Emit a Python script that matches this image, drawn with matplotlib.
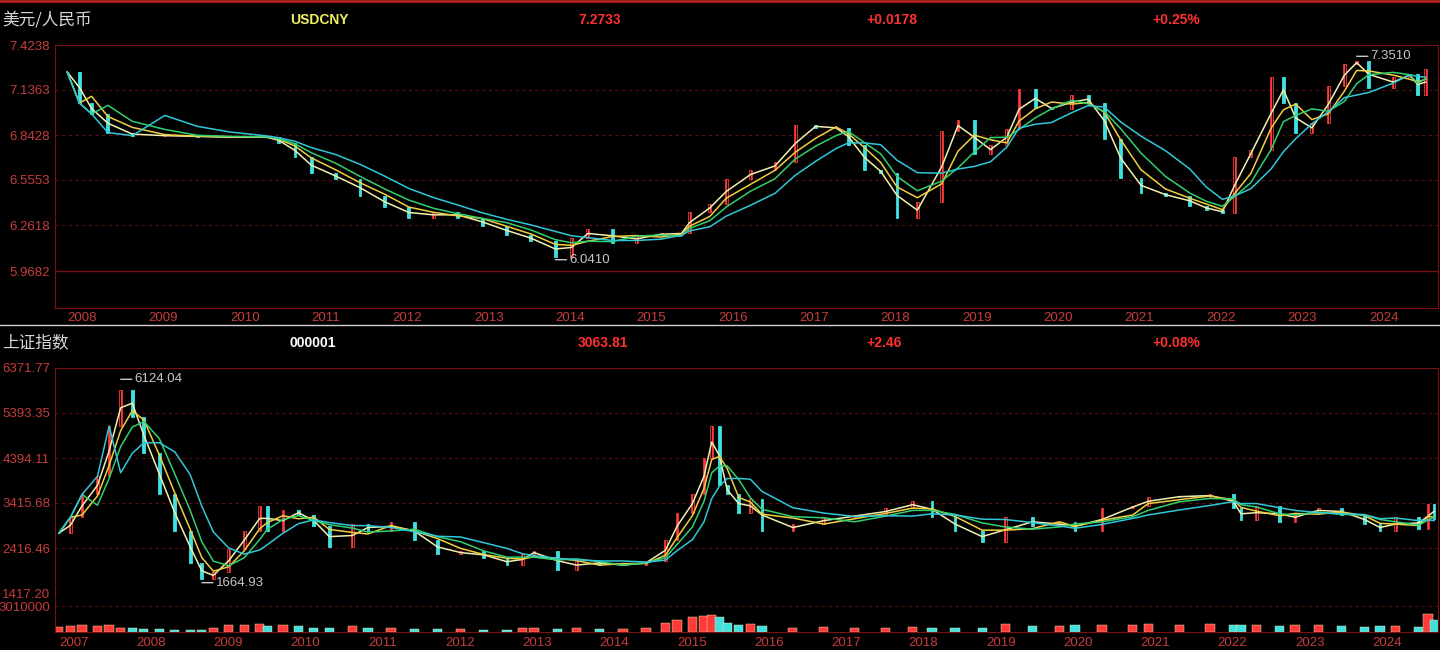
import matplotlib
matplotlib.use("Agg")
import matplotlib.pyplot as plt
import numpy as np

plt.rcParams['font.family'] = ['Noto Sans CJK SC', 'DejaVu Sans']

# ---- data (time in fractional years) ----
fx_t = [2008.0, 2008.15, 2008.3, 2008.5, 2008.8, 2009.2, 2009.6, 2010.0, 2010.45, 2010.6,
        2010.8, 2011.0, 2011.3, 2011.6, 2011.9, 2012.2, 2012.5, 2012.8, 2013.1, 2013.4,
        2013.7, 2014.0, 2014.2, 2014.4, 2014.7, 2015.0, 2015.3, 2015.55, 2015.65, 2015.9,
        2016.1, 2016.4, 2016.7, 2016.95, 2017.2, 2017.45, 2017.6, 2017.8, 2018.0, 2018.2,
        2018.45, 2018.75, 2018.95, 2019.15, 2019.35, 2019.55, 2019.7, 2019.9, 2020.1, 2020.35,
        2020.55, 2020.75, 2020.95, 2021.2, 2021.5, 2021.8, 2022.0, 2022.2, 2022.35, 2022.55,
        2022.8, 2022.95, 2023.1, 2023.3, 2023.5, 2023.7, 2023.85, 2024.0, 2024.3, 2024.5,
        2024.6, 2024.7]
fx_c = [7.25, 7.05, 6.98, 6.86, 6.84, 6.84, 6.83, 6.83, 6.83, 6.79,
        6.70, 6.60, 6.56, 6.45, 6.38, 6.31, 6.35, 6.31, 6.26, 6.20,
        6.16, 6.06, 6.18, 6.24, 6.15, 6.20, 6.21, 6.21, 6.35, 6.40,
        6.56, 6.62, 6.67, 6.91, 6.89, 6.89, 6.78, 6.62, 6.60, 6.31,
        6.41, 6.87, 6.94, 6.72, 6.78, 6.88, 7.14, 7.02, 7.01, 7.10,
        7.05, 6.82, 6.57, 6.47, 6.45, 6.39, 6.36, 6.34, 6.70, 6.75,
        7.22, 7.05, 6.86, 6.92, 7.16, 7.30, 7.32, 7.15, 7.22, 7.24,
        7.10, 7.27]

sh_t = [2007.0, 2007.15, 2007.3, 2007.5, 2007.65, 2007.8, 2007.95, 2008.1, 2008.3, 2008.5,
        2008.7, 2008.85, 2009.0, 2009.2, 2009.4, 2009.6, 2009.7, 2009.9, 2010.1, 2010.3,
        2010.5, 2010.8, 2011.0, 2011.3, 2011.6, 2011.9, 2012.2, 2012.5, 2012.8, 2013.0,
        2013.15, 2013.45, 2013.7, 2014.0, 2014.3, 2014.6, 2014.85, 2015.0, 2015.2, 2015.35,
        2015.45, 2015.55, 2015.65, 2015.8, 2015.95, 2016.1, 2016.5, 2016.9, 2017.3, 2017.7,
        2018.05, 2018.3, 2018.6, 2018.95, 2019.25, 2019.6, 2019.95, 2020.15, 2020.5, 2020.9,
        2021.1, 2021.5, 2021.9, 2022.2, 2022.3, 2022.5, 2022.8, 2023.0, 2023.3, 2023.6,
        2023.9, 2024.1, 2024.3, 2024.6, 2024.72, 2024.8]
sh_c = [2750, 3100, 3600, 4000, 5100, 5900, 5300, 4500, 3600, 2800,
        2100, 1750, 1900, 2400, 2800, 3350, 2800, 3250, 3150, 2900,
        2450, 2950, 2800, 3000, 2600, 2300, 2350, 2200, 2050, 2300,
        2350, 1950, 2150, 2050, 2050, 2150, 2600, 3200, 3600, 4400,
        5100, 3800, 3600, 3200, 3500, 2800, 2950, 3100, 3150, 3300,
        3450, 3100, 2800, 2550, 3100, 2900, 3000, 2800, 3300, 3350,
        3550, 3550, 3600, 3300, 3050, 3350, 3000, 3200, 3300, 3150,
        2950, 2800, 3100, 2850, 3400, 3060]
vol = [0.35, 0.40, 0.45, 0.40, 0.45, 0.30, 0.25, 0.22, 0.20, 0.15,
       0.15, 0.15, 0.30, 0.45, 0.50, 0.55, 0.40, 0.45, 0.40, 0.30,
       0.25, 0.40, 0.30, 0.25, 0.20, 0.18, 0.20, 0.15, 0.15, 0.25,
       0.25, 0.20, 0.25, 0.20, 0.20, 0.30, 0.60, 0.80, 1.00, 1.10,
       1.15, 1.00, 0.60, 0.50, 0.55, 0.40, 0.30, 0.35, 0.30, 0.30,
       0.35, 0.30, 0.25, 0.25, 0.55, 0.40, 0.40, 0.45, 0.50, 0.50,
       0.55, 0.50, 0.55, 0.45, 0.45, 0.50, 0.40, 0.45, 0.45, 0.40,
       0.35, 0.40, 0.40, 0.35, 1.20, 0.80]

fx_yticks = [7.4238, 7.1363, 6.8428, 6.5553, 6.2618, 5.9682]
sh_yticks = [6371.77, 5393.35, 4394.11, 3415.68, 2416.46, 1417.20]

BG = 'black'
RED = '#b02020'
LBL = '#c83c3c'
GRID = '#5a0f0f'
NUMFONT = ['Liberation Sans', 'DejaVu Sans']

fig = plt.figure(figsize=(14.4, 6.5), dpi=100, facecolor=BG)
W, H = 1440, 650

def add_ax(x0, y0, x1, y1):
    ax = fig.add_axes([x0 / W, 1 - y1 / H, (x1 - x0) / W, (y1 - y0) / H])
    ax.set_facecolor(BG)
    for s in ax.spines.values():
        s.set_color('#7a1010')
    ax.tick_params(colors=LBL, labelsize=9.5, length=0)
    return ax

def fix_font(ax):
    for lab in ax.get_xticklabels() + ax.get_yticklabels():
        lab.set_family(NUMFONT)

def draw_candles(ax, t, c, width):
    t = np.array(t); c = np.array(c)
    o = np.r_[c[0], c[:-1]]
    for ti, oi, ci in zip(t, o, c):
        up = ci >= oi
        col = '#ff3a3a' if up else '#40e0e0'
        lo, hi = min(oi, ci), max(oi, ci)
        ax.vlines(ti, lo, hi, color=col, lw=0.8, zorder=2)
        ax.bar(ti, hi - lo if hi > lo else 1e-6, width, bottom=lo,
               color=col if not up else 'none', edgecolor=col, lw=0.6, zorder=3)
    for win, col in [(2, '#f0f0b0'), (3, '#f0d040'), (4, '#30d070'), (6, '#30c8d8')]:
        ma = np.convolve(c, np.ones(win) / win, mode='full')[:len(c)]
        ma[:win - 1] = c[:win - 1]
        ax.plot(t, ma, color=col, lw=1.1, zorder=4)

def note(ax, txt, xy):
    ax.annotate(txt, xy, xytext=(10, 0), textcoords='offset points', color='#c8c8c8',
                fontsize=9.5, va='center', family=NUMFONT,
                arrowprops=dict(arrowstyle='-', color='#c8c8c8', shrinkA=0, shrinkB=0))

# ---- top panel: USD/CNY ----
ax1 = add_ax(55, 45, 1438, 308)
draw_candles(ax1, fx_t, fx_c, 0.035)
ax1.set_xlim(2007.85, 2024.85)
ax1.set_ylim(5.73, 7.4238)
ax1.set_yticks(fx_yticks)
ax1.set_yticklabels(['%.4f' % v for v in fx_yticks])
ax1.grid(axis='y', color=GRID, ls=(0, (3, 3)), lw=0.8)
ax1.axhline(5.9682, color='#7a1010', lw=1)
ax1.set_xticks(range(2008, 2025))
ax1.set_xticklabels([str(y) for y in range(2008, 2025)], ha='left')
ax1.tick_params(axis='x', pad=3)
fix_font(ax1)
i_max = int(np.argmax(fx_c)); i_min = int(np.argmin(fx_c))
note(ax1, '7.3510', (fx_t[i_max], 7.351))
note(ax1, '6.0410', (fx_t[i_min], 6.041))

# ---- bottom panel: SSE composite ----
ax2 = add_ax(55, 368, 1438, 594)
draw_candles(ax2, sh_t, sh_c, 0.035)
ax2.set_xlim(2006.95, 2024.85)
ax2.set_ylim(1417.20, 6371.77)
ax2.set_yticks(sh_yticks)
ax2.set_yticklabels(['%.2f' % v for v in sh_yticks])
ax2.grid(axis='y', color=GRID, ls=(0, (3, 3)), lw=0.8)
ax2.set_xticks([])
fix_font(ax2)
note(ax2, '6124.04', (2007.8, 6124))
note(ax2, '1664.93', (2008.85, 1665))

ax3 = add_ax(55, 594, 1438, 632)
ax3.spines['top'].set_visible(False)
vc = ['#ff3a3a' if i == 0 or sh_c[i] >= sh_c[i - 1] else '#40e0e0' for i in range(len(sh_c))]
ax3.bar(sh_t, vol, width=0.12, color=vc, edgecolor='#f0f0b0', lw=0.3)
ax3.set_xlim(2006.95, 2024.85)
ax3.set_ylim(0, 2.6)
ax3.set_yticks([1.75])
ax3.set_yticklabels(['3010000'])
ax3.grid(axis='y', color=GRID, ls=(0, (3, 3)), lw=0.8)
ax3.set_xticks(range(2007, 2025))
ax3.set_xticklabels([str(y) for y in range(2007, 2025)], ha='left')
fix_font(ax3)

# ---- headers ----
def header(y, name, code, code_col, vals):
    fig.text(2 / W, 1 - y / H, name, color='#d8d8d8', fontsize=12, va='center')
    fig.text(290 / W, 1 - y / H, code, color=code_col, fontsize=10, va='center',
             weight='bold', family=NUMFONT)
    for x, v in zip([578, 866, 1152], vals):
        fig.text(x / W, 1 - y / H, v, color='#ff3030', fontsize=10, va='center',
                 weight='bold', family=NUMFONT)

header(20, '美元/人民币', 'USDCNY', '#f0f060', ['7.2733', '+0.0178', '+0.25%'])
header(343, '上证指数', '000001', 'white', ['3063.81', '+2.46', '+0.08%'])

fig.add_artist(plt.Line2D([0, 1], [1 - 1 / H, 1 - 1 / H], color=RED, lw=2))
fig.add_artist(plt.Line2D([0, 1], [1 - 325 / H, 1 - 325 / H], color='#d0d0d0', lw=1))

fig.savefig('out.png', dpi=100, facecolor=BG)
